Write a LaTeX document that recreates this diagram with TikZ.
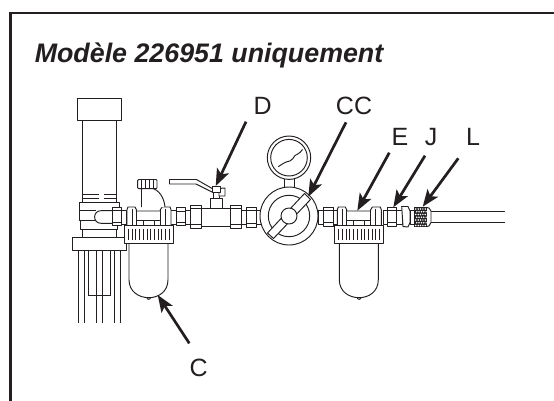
\documentclass[tikz,border=0pt]{standalone}
\usepackage{fontspec}
\setmainfont{Liberation Sans}
\usetikzlibrary{arrows.meta}
\definecolor{ink}{HTML}{231F20}
\tikzset{
  part/.style={draw=ink,line width=0.95pt,fill=white,line join=round},
  plain/.style={draw=ink,line width=0.95pt},
  frameline/.style={draw=ink,line width=2.2pt},
  callout/.style={draw=ink,fill=ink,line width=2.7pt,-{Stealth[length=17pt,width=13pt,inset=4pt]}},
  lab/.style={text=ink,font=\fontsize{25}{25}\selectfont,inner sep=0pt},
  pics/filterunit/.style={code={
    \draw[part] (3,-16) -- (4,-18.7) -- (11,-18.7) -- (12.4,-16) -- (12.4,-14.7) -- (36.4,-14.7) -- (36.4,-16) -- (38,-18.7) -- (46,-18.7) -- (47,-16) -- (47,0) -- (3,0) -- cycle;
    \draw[plain] (12.4,-16) -- (12.4,0) (36.4,-16) -- (36.4,0) (8,-17) -- (8,0) (41,-17) -- (41,0);
    \draw[plain] (12.4,-5.3) -- (19,-5.3) (30.6,-5.3) -- (36.4,-5.3);
    \draw[part] (19,0) -- (19,-5.3) -- (30.6,-5.3) -- (30.6,0);
    \draw[part] (22.5,71) .. controls (23,74.5) and (26.5,74.5) .. (27,71);
    \draw[part] (5,17) -- (5,54) .. controls (5,66) and (15,72) .. (24.7,72) .. controls (34.5,72) and (44,66) .. (44,54) -- (44,17);
    \draw[part] (0,0) rectangle (49.4,17.6);
    \foreach \k in {0,...,11} \draw[plain] ({4.5+\k*3.7},3) -- ({4.5+\k*3.7},14.6);
  }}
}
\newcommand{\hexnut}[4]{%
  \draw[part] (#1,#3) rectangle (#2,#4);
  \draw[plain] (#1,#3+3.5) -- (#2,#3+3.5) (#1,#4-3.5) -- (#2,#4-3.5);
}
\newcommand{\pipebit}[2]{\draw[part] (#1,210) rectangle (#2,224);}
\begin{document}
\begin{tikzpicture}[x=1pt,y=-1pt]
\useasboundingbox (0,0) rectangle (554,401);
% frame
\coordinate (frameBL) at (10.5,401);
\coordinate (frameTL) at (10.5,13);
\coordinate (frameTR) at (554,13);
\draw[frameline] (frameBL) -- (frameTL) -- (frameTR);
\node[anchor=base west,text=ink,inner sep=0pt,font=\fontsize{26.8}{26.8}\selectfont\bfseries\itshape] (title) at (34.6,62.5) {Modèle 226951 uniquement};
% rods
\draw[plain] (78.3,250) -- (78.3,322.7) (84,250) -- (84,322.7) (96.3,250) -- (96.3,322.7) (102.3,250) -- (102.3,322.7) (114.3,250) -- (114.3,322.7) (120.3,250) -- (120.3,322.7);
\draw[plain] (88.3,250) -- (88.3,295) -- (110,295) -- (110,250);
% column
\draw[part] (82.3,120) rectangle (116.3,204);
\draw[part] (77.3,98.3) rectangle (121,120.3);
\draw[plain] (82.3,194) -- (99,194) (104,194) -- (116.3,194) (82.3,198) -- (99,198) (104,198) -- (116.3,198);
\draw[part] (82.3,228) rectangle (116.3,238);
\draw[part] (80.7,219) rectangle (117.7,229.5);
\draw[part] (79,202.5) -- (119,202.5) -- (119,220) -- (79,220) -- cycle;
\draw[plain] (79,210.5) -- (96,210.5);
\draw[part] (113,210.7) -- (101,210.7) .. controls (92.5,210.7) and (92.5,223.3) .. (101,223.3) -- (113,223.3);
\draw[part] (72.3,237) rectangle (126.7,250.7);
% left line of fittings
\hexnut{112.7}{121.3}{207}{225.7}
\draw[part] (121.3,210) rectangle (126.5,224);
\pipebit{170}{176}
\hexnut{176}{185}{207.5}{225.5}
\pipebit{185}{190}
\hexnut{190}{201.7}{205.3}{228.3}
% ball valve
\draw[part] (201.7,208) rectangle (230,226);
\draw[part] (210,198) rectangle (222,208);
\draw[part] (213,192) rectangle (219,198);
\draw[part] (169.5,179.5) -- (196.5,179.5) -- (213,189) -- (225,188) -- (225,196) -- (219,196) -- (219,192) -- (212,192) -- (196,184) -- (169.5,184) -- cycle;
\draw[part] (212.5,186) rectangle (220,192);
\hexnut{230}{241.3}{205.3}{228.3}
\pipebit{241.3}{246.7}
\hexnut{246.7}{256}{207}{227}
\pipebit{256}{261}
% gauge
\draw[part] (284.3,177) rectangle (294.3,190);
\node[part,circle,minimum size=43.4pt,inner sep=0pt] (gaugeOuter) at (289,157.7) {};
\node[part,circle,minimum size=36.6pt,inner sep=0pt] (gaugeInner) at (289,157.7) {};
\draw[plain] (278.3,166.7) .. controls (283,163.5) and (286,161.5) .. (290,161) .. controls (293,160.5) and (293,157) .. (295,155.5) .. controls (297,154) and (299.5,154) .. (302.5,149.5);
% regulator
\node[part,circle,minimum size=58pt,inner sep=0pt] (regOuter) at (289,216) {};
\node[part,circle,minimum size=41.4pt,inner sep=0pt] (regInner) at (289,216) {};
\draw[part] (267.5,233) -- (273.5,238.5) -- (310.5,199.5) -- (304.5,193.5) -- cycle;
\node[part,circle,minimum size=16pt,inner sep=0pt] (regHub) at (289,216) {};
% right fittings
\pipebit{318}{323}
\hexnut{323}{333}{207}{226}
\pipebit{333}{338}
\pic at (334.3,225.7) {filterunit};
\pic at (124,225.7) {filterunit};
% cap on left filter
\draw[part] (141.5,207) -- (141.5,188) -- (151.5,188) .. controls (159,190) and (164,197) .. (165,207);
\draw[part,rounded corners=1pt] (137.7,179.5) rectangle (157,188.7);
\foreach \k in {141.5,145.5,149.5,153.5} \draw[plain] (\k,180) -- (\k,188);
\pipebit{383}{387}
\hexnut{387}{396}{207.3}{226}
\pipebit{396}{402}
\draw[part] (401.7,206.5) -- (408,206.5) -- (410,211) -- (410,222.5) -- (408,227) -- (403,226.5) -- cycle;
\pipebit{410}{414}
% quick coupler and hose
\draw[plain] (431,211) -- (505,211) (431,222.3) -- (505,222.3);
\draw[part] (426.5,207.5) -- (429,208) -- (431,211) -- (431,222.5) -- (429,226) -- (426.5,226.5) -- cycle;
\fill[ink] (414,207.3) rectangle (426.7,226.7);
\foreach \i in {0,...,4}{\foreach \j in {0,...,6}{
  \fill[white] ({415.8+\i*2.35+mod(\j,2)*0.9},{209+\j*2.75}) circle (0.85pt);}}
% callouts
\coordinate (arrC0) at (189.3,343.3); \coordinate (arrC1) at (157.7,295);
\coordinate (arrD0) at (246,121.7);  \coordinate (arrD1) at (215.7,186);
\coordinate (arrCC0) at (346,122.3); \coordinate (arrCC1) at (308.3,196.7);
\coordinate (arrE0) at (389.3,152.7); \coordinate (arrE1) at (357.3,210.7);
\coordinate (arrJ0) at (425,155.7); \coordinate (arrJ1) at (393.3,207.3);
\coordinate (arrL0) at (458.3,158.3); \coordinate (arrL1) at (422.7,206.7);
\foreach \a in {C,D,CC,E,J,L} \draw[callout] (arr\a0) -- (arr\a1);
\node[lab] (labD) at (262.7,105.7) {D};
\node[lab] (labCC) at (354,105.7) {CC};
\node[lab] (labE) at (400,136.7) {E};
\node[lab] (labJ) at (431,136.7) {J};
\node[lab] (labL) at (473,136.7) {L};
\node[lab] (labC) at (198.7,368) {C};
\end{tikzpicture}
\end{document}
